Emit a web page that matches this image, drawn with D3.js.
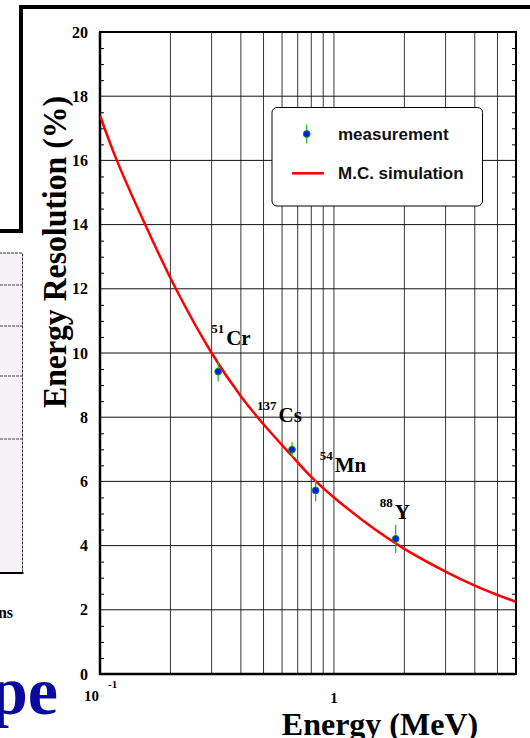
<!DOCTYPE html>
<html>
<head>
<meta charset="utf-8">
<script src="https://cdn.jsdelivr.net/npm/d3@7"></script>
<style>
  body { margin: 0; background: #fff; }
  svg { display: block; }
</style>
</head>
<body>
<svg id="chart" width="530" height="738"></svg>
<script>
// measured lines (energy in MeV, resolution in %)
const isotopes = ["Cr", "Cs", "Mn", "Y"];
const massNumbers = ["51", "137", "54", "88"];
const measEnergy = [0.320, 0.662, 0.835, 1.836];
const measRes = [9.42, 6.99, 5.72, 4.21];
const measErr = [0.31, 0.23, 0.34, 0.44];

// M.C. simulation curve
const simEnergy = [0.1, 0.118, 0.156, 0.211, 0.3, 0.4, 0.5, 0.66, 0.81, 1.0, 1.5, 2.0, 3, 4, 5, 6];
const simRes = [17.4, 16.0, 14.0, 12.0, 10.0, 8.65, 7.78, 6.8, 6.1, 5.5, 4.5, 3.9, 3.19, 2.75, 2.46, 2.25];

const yTicks = [0, 2, 4, 6, 8, 10, 12, 14, 16, 18, 20];
const yMinor = [0.5, 1, 1.5, 2.5, 3, 3.5, 4.5, 5, 5.5, 6.5, 7, 7.5, 8.5, 9, 9.5, 10.5, 11, 11.5,
  12.5, 13, 13.5, 14.5, 15, 15.5, 16.5, 17, 17.5, 18.5, 19, 19.5];
const xGrid = [0.2, 0.3, 0.4, 0.5, 0.6, 0.7, 0.8, 0.9, 1, 2, 3, 4, 5];
const legendLabels = ["measurement", "M.C. simulation"];

const svg = d3.select("#chart");
const serif = "'Liberation Serif', 'Times New Roman', serif";
const sans = "'Liberation Sans', Arial, sans-serif";

// ---- background slide pieces (cropped) ----
svg.append("path")
  .attr("d", "M21,232 V7 H530")
  .attr("fill", "none").attr("stroke", "#000").attr("stroke-width", 4);
svg.append("line")
  .attr("x1", 0).attr("x2", 23).attr("y1", 231).attr("y2", 231)
  .attr("stroke", "#000").attr("stroke-width", 4);

// left panel remnant
svg.append("rect").attr("x", -5).attr("y", 253).attr("width", 27.5).attr("height", 320)
  .attr("fill", "#f7f2f7").attr("stroke", "#333").attr("stroke-width", 1)
  .attr("stroke-dasharray", "3,1");
[285, 326, 376, 439].forEach(yy => {
  svg.append("line").attr("x1", 0).attr("x2", 22.5).attr("y1", yy).attr("y2", yy)
    .attr("stroke", "#444").attr("stroke-dasharray", "3,1");
});
svg.append("line").attr("x1", 0).attr("x2", 23.5).attr("y1", 573).attr("y2", 573)
  .attr("stroke", "#000").attr("stroke-width", 2);
svg.append("text").attr("x", 13).attr("y", 618).attr("text-anchor", "end")
  .attr("font-family", serif).attr("font-weight", "bold").attr("font-size", 16)
  .text("ns");
svg.append("text").attr("x", 58).attr("y", 714).attr("text-anchor", "end")
  .attr("font-family", serif).attr("font-weight", "bold").attr("font-size", 68)
  .attr("fill", "#0a0a9c").text("pe");

// ---- scales ----
const x = d3.scaleLog().domain([0.1, 6]).range([100, 516]);
const y = d3.scaleLinear().domain([0, 20]).range([674, 32]);

// grid
svg.append("g").selectAll("line").data(xGrid).join("line")
  .attr("x1", d => x(d)).attr("x2", d => x(d))
  .attr("y1", y(0)).attr("y2", y(20))
  .attr("stroke", "#3a3a3a").attr("stroke-width", 1);
svg.append("g").selectAll("line").data(yTicks.slice(1, -1)).join("line")
  .attr("x1", x(0.1)).attr("x2", x(6))
  .attr("y1", d => y(d)).attr("y2", d => y(d))
  .attr("stroke", "#111").attr("stroke-width", 1);

// minor ticks (inward) on both sides
svg.append("g").attr("transform", `translate(${x(0.1)},0)`)
  .call(d3.axisLeft(y).tickValues(yMinor).tickSize(-4).tickFormat(""))
  .call(g => g.select(".domain").remove());
svg.append("g").attr("transform", `translate(${x(6)},0)`)
  .call(d3.axisRight(y).tickValues(yMinor).tickSize(-4).tickFormat(""))
  .call(g => g.select(".domain").remove());

// y tick labels
const yAxis = svg.append("g").attr("transform", `translate(${x(0.1)},0)`)
  .call(d3.axisLeft(y).tickValues(yTicks).tickSize(0).tickPadding(12));
yAxis.select(".domain").remove();
yAxis.selectAll("text")
  .attr("font-family", serif).attr("font-weight", "bold").attr("font-size", 16)
  .attr("fill", "#000");

// frame
svg.append("rect")
  .attr("x", x(0.1)).attr("y", y(20))
  .attr("width", x(6) - x(0.1)).attr("height", y(0) - y(20))
  .attr("fill", "none").attr("stroke", "#000").attr("stroke-width", 2);
svg.append("path")
  .attr("d", `M${x(0.1)},${y(20)} V${y(0)} H${x(6)}`)
  .attr("fill", "none").attr("stroke", "#000").attr("stroke-width", 2.5);

// x tick labels: 10^-1 and 1
const xl = svg.append("g").attr("font-family", serif).attr("font-weight", "bold");
xl.append("text").attr("x", x(0.1) - 16).attr("y", 701).attr("font-size", 15).text("10");
xl.append("text").attr("x", x(0.1) + 8).attr("y", 688).attr("font-size", 11).text("-1");
xl.append("text").attr("x", x(1)).attr("y", 703).attr("text-anchor", "middle")
  .attr("font-size", 15).text("1");

// axis titles
svg.append("text")
  .attr("transform", "translate(66,252) rotate(-90)")
  .attr("text-anchor", "middle")
  .attr("font-family", serif).attr("font-weight", "bold").attr("font-size", 33)
  .attr("textLength", 312).attr("lengthAdjust", "spacingAndGlyphs")
  .text("Energy Resolution (%)");
svg.append("text").attr("x", 380).attr("y", 735).attr("text-anchor", "middle")
  .attr("font-family", serif).attr("font-weight", "bold").attr("font-size", 32)
  .text("Energy (MeV)");

// simulation curve
svg.append("clipPath").attr("id", "plot").append("rect")
  .attr("x", x(0.1)).attr("y", y(20))
  .attr("width", x(6) - x(0.1)).attr("height", y(0) - y(20));
const simData = simEnergy.map((e, i) => ({ e, r: simRes[i] }));
const line = d3.line().x(d => x(d.e)).y(d => y(d.r)).curve(d3.curveCatmullRom.alpha(0.5));
svg.append("path").datum(simData)
  .attr("clip-path", "url(#plot)")
  .attr("d", line)
  .attr("fill", "none").attr("stroke", "#ff0000").attr("stroke-width", 2.5);

// measurements
const meas = measEnergy.map((e, i) => ({
  e, r: measRes[i], err: measErr[i], iso: isotopes[i], mass: massNumbers[i]
}));
const pts = svg.append("g").selectAll("g").data(meas).join("g");
pts.append("line")
  .attr("x1", d => x(d.e)).attr("x2", d => x(d.e))
  .attr("y1", d => y(d.r - d.err)).attr("y2", d => y(d.r + d.err))
  .attr("stroke", "#22c422").attr("stroke-width", 1.3);
pts.append("circle")
  .attr("cx", d => x(d.e)).attr("cy", d => y(d.r)).attr("r", 3.4)
  .attr("fill", "#0a14ff").attr("stroke", "#119911").attr("stroke-width", 1);

// isotope labels (offsets relative to the point)
const labelOffsets = [[-7, -27], [-35, -28], [4, -18], [-16, -20]];
const lab = svg.append("g").attr("font-family", serif).attr("font-weight", "bold");
meas.forEach((d, i) => {
  const lx = x(d.e) + labelOffsets[i][0];
  const ly = y(d.r) + labelOffsets[i][1];
  const t = lab.append("text").attr("x", lx).attr("y", ly);
  t.append("tspan").attr("font-size", 13).attr("dy", -12).text(d.mass);
  t.append("tspan").attr("font-size", 21).attr("dx", 2).attr("dy", 12).text(d.iso);
});

// legend
const leg = svg.append("g");
leg.append("rect").attr("x", 272).attr("y", 107.5).attr("width", 210.5).attr("height", 98.5)
  .attr("rx", 5).attr("fill", "#fff").attr("stroke", "#000").attr("stroke-width", 1);
leg.append("line").attr("x1", 306.7).attr("x2", 306.7).attr("y1", 124.5).attr("y2", 143.5)
  .attr("stroke", "#22c422").attr("stroke-width", 1.3);
leg.append("circle").attr("cx", 306.7).attr("cy", 134).attr("r", 3.4)
  .attr("fill", "#0a14ff").attr("stroke", "#119911").attr("stroke-width", 1);
leg.append("line").attr("x1", 292).attr("x2", 324).attr("y1", 173.3).attr("y2", 173.3)
  .attr("stroke", "#ff0000").attr("stroke-width", 2.5);
leg.selectAll("text").data(legendLabels).join("text")
  .attr("x", 338).attr("y", (d, i) => 139.5 + i * 39.5)
  .attr("font-family", sans).attr("font-weight", "bold").attr("font-size", 17)
  .attr("fill", "#111").text(d => d);
</script>
</body>
</html>
